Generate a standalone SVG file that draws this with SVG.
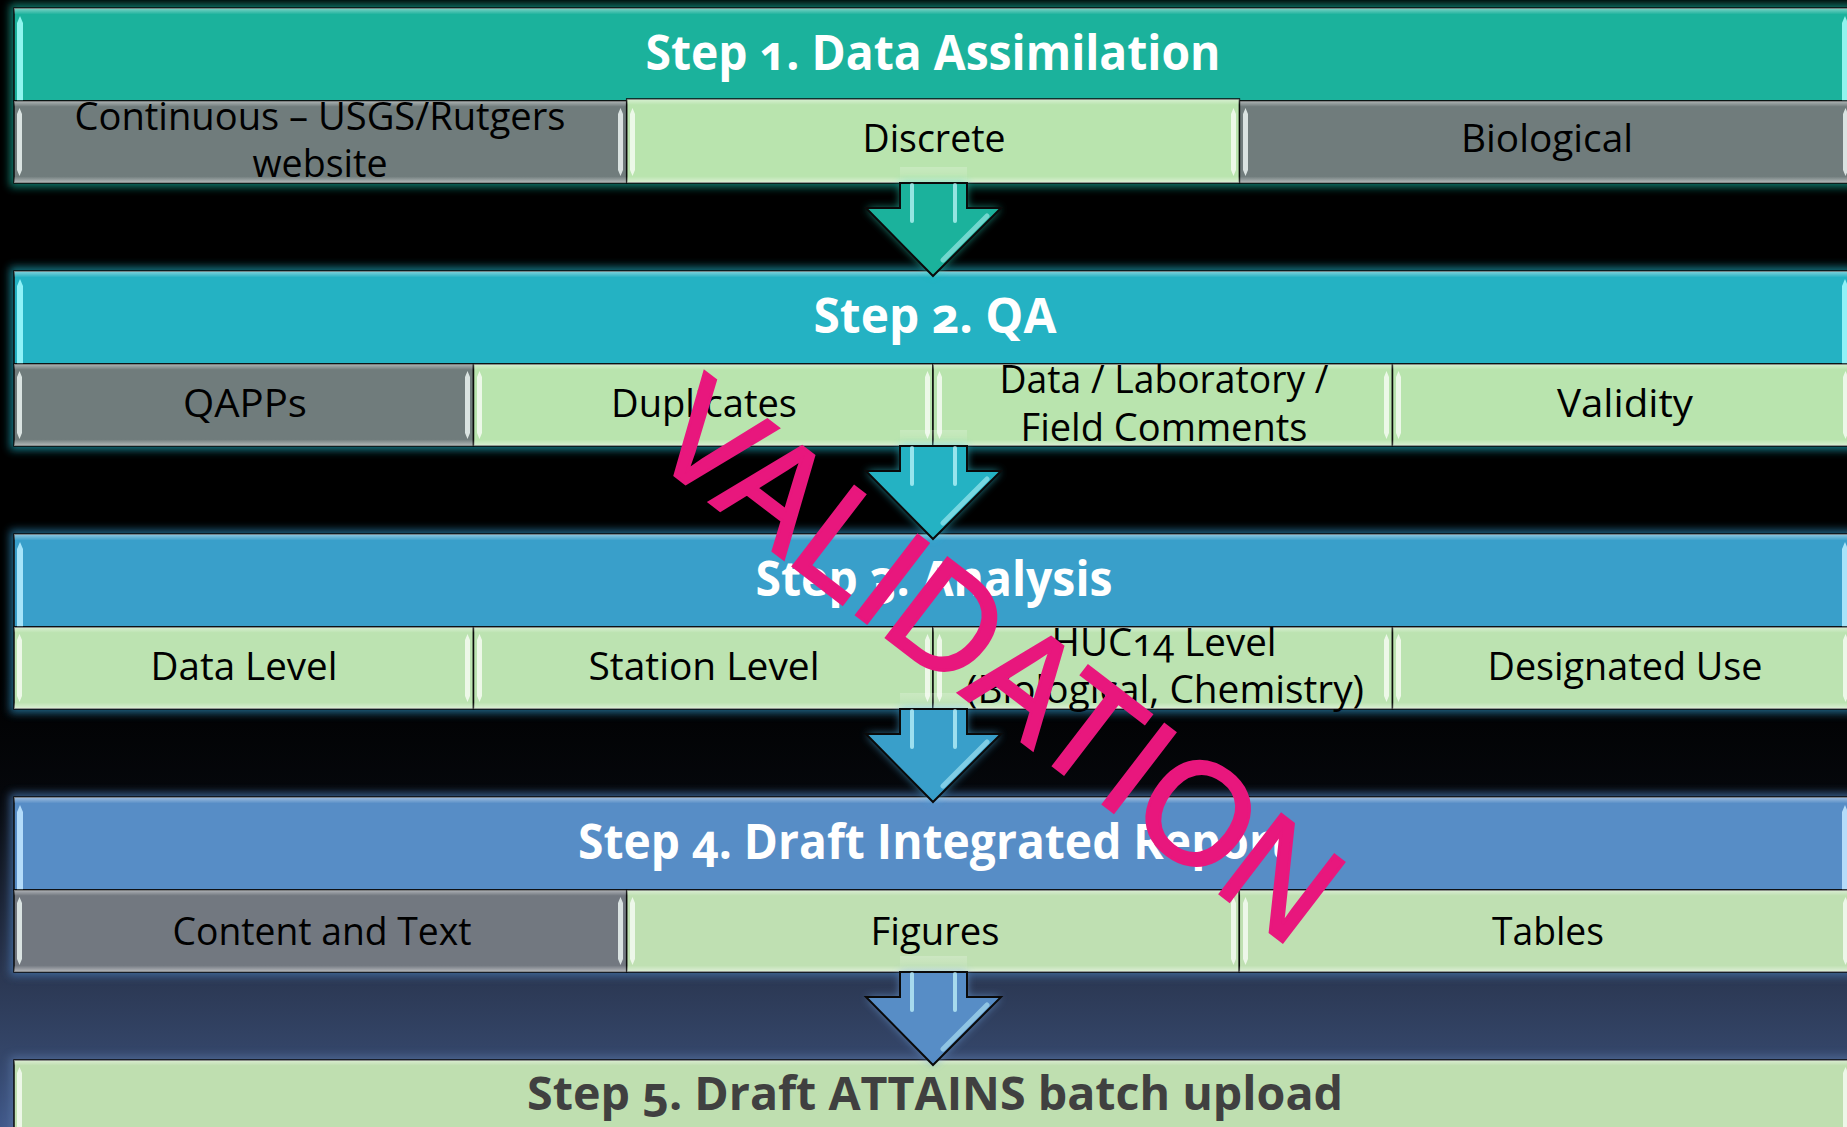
<svg xmlns="http://www.w3.org/2000/svg" width="1847" height="1127" viewBox="0 0 1847 1127">
<defs>
<style>
.hdr{font-family:"Open Sans","Noto Sans","DejaVu Sans",sans-serif;font-weight:700;font-size:48px;fill:#ffffff;text-anchor:middle;font-variant-numeric:oldstyle-nums}
.lbl{font-family:"Open Sans","Noto Sans","DejaVu Sans",sans-serif;font-size:38px;fill:#000;text-anchor:middle;font-variant-numeric:oldstyle-nums}
.bx{stroke:#0a0a0a;stroke-width:1.5}
.gray{fill:#707c7c}
.green{fill:#b9e4ae}
.pg{fill:#e6eeec;opacity:.9}
.pw{fill:#f2faee;opacity:.9}
.wm{font-family:"Liberation Sans",Arial,sans-serif;font-size:146px;fill:#e8177d;stroke:#e8177d;stroke-width:3;stroke-linejoin:miter}
.hl{stroke-linecap:round;fill:none}
</style>
<linearGradient id="bg" gradientUnits="userSpaceOnUse" x1="0" y1="0" x2="0" y2="1127">
<stop offset="0" stop-color="#000"/>
<stop offset="0.6" stop-color="#000"/>
<stop offset="0.70" stop-color="#05070b"/>
<stop offset="0.86" stop-color="#2a3650"/>
<stop offset="0.94" stop-color="#35476b"/>
<stop offset="1" stop-color="#41598a"/>
</linearGradient>
<linearGradient id="bev" x1="0" y1="0" x2="0" y2="1">
<stop offset="0" stop-color="#fff" stop-opacity=".45"/>
<stop offset=".07" stop-color="#fff" stop-opacity="0"/>
<stop offset=".92" stop-color="#fff" stop-opacity="0"/>
<stop offset="1" stop-color="#fff" stop-opacity=".5"/>
</linearGradient>
<linearGradient id="hbev" x1="0" y1="0" x2="0" y2="1">
<stop offset="0" stop-color="#fff" stop-opacity=".45"/>
<stop offset=".07" stop-color="#fff" stop-opacity="0"/>
<stop offset="1" stop-color="#fff" stop-opacity="0"/>
</linearGradient>
<linearGradient id="shaft" x1="0" y1="0" x2="0" y2="1">
<stop offset="0" stop-color="#fff" stop-opacity=".35"/>
<stop offset="1" stop-color="#fff" stop-opacity="0"/>
</linearGradient>
<filter id="soft" x="-5%" y="-30%" width="110%" height="160%"><feGaussianBlur stdDeviation="4"/></filter>
<filter id="softA" x="-40%" y="-40%" width="180%" height="180%"><feGaussianBlur stdDeviation="4"/></filter>
<path id="pS" d="M2.5,7 L5,13 L5,69 L2.5,75 L0,69 L0,13 Z"/>
<path id="pH" d="M3,8 L6,15 L6,93 L0,93 L0,15 Z"/>
<path id="arrow" d="M-33,0 L34,0 L34,25 L68,25 L0,93 L-67,25 L-33,25 Z"/>
<g id="ahl">
<rect x="-33" y="-16" width="67" height="16" fill="url(#shaft)" opacity=".6"/>
<line class="hl" x1="-21" y1="2" x2="-21" y2="38" stroke="#c8fbff" stroke-width="4" opacity=".7"/>
<line class="hl" x1="22" y1="2" x2="22" y2="38" stroke="#c8fbff" stroke-width="4" opacity=".7"/>
<line class="hl" x1="54" y1="33" x2="10" y2="77" stroke="#c8fbff" stroke-width="5" opacity=".5"/>
</g>
</defs>

<rect x="0" y="0" width="1847" height="1127" fill="url(#bg)"/>

<!-- Step 1 -->
<g id="step1">
<rect x="10" y="4" width="1846" height="183" fill="#17a491" filter="url(#soft)" opacity=".75"/>
<rect class="bx" x="14" y="8" width="1838" height="93" fill="#1bb29c"/>
<rect x="14" y="8" width="1838" height="93" fill="url(#hbev)"/>
<use href="#pH" x="17" y="8" fill="#8ff5ee"/>
<use href="#pH" x="1842" y="8" fill="#8ff5ee"/>
<text class="hdr" x="933" y="70" textLength="575" lengthAdjust="spacingAndGlyphs">Step 1. Data Assimilation</text>
</g>
<g id="continuous">
<rect class="bx gray" x="14" y="101" width="612.7" height="82"/>
<rect x="14" y="101" width="612.7" height="82" fill="url(#bev)"/>
<use href="#pS" x="17" y="101" class="pg"/>
<use href="#pS" x="618" y="101" class="pg"/>
<text class="lbl" x="320" y="130" textLength="491" lengthAdjust="spacingAndGlyphs">Continuous – USGS/Rutgers</text>
<text class="lbl" x="320" y="177" textLength="135" lengthAdjust="spacingAndGlyphs">website</text>
</g>
<g id="biological">
<rect class="bx gray" x="1239.3" y="101" width="612.7" height="82"/>
<rect x="1239.3" y="101" width="612.7" height="82" fill="url(#bev)"/>
<use href="#pS" x="1243" y="101" class="pg"/>
<use href="#pS" x="1843" y="101" class="pg"/>
<text class="lbl" x="1547" y="152" textLength="172" lengthAdjust="spacingAndGlyphs">Biological</text>
</g>
<g id="discrete">
<rect class="bx green" x="626.7" y="99" width="612.7" height="84"/>
<rect x="626.7" y="99" width="612.7" height="84" fill="url(#bev)"/>
<use href="#pS" x="630" y="101" class="pw"/>
<use href="#pS" x="1231" y="101" class="pw"/>
<text class="lbl" x="934" y="152" textLength="143" lengthAdjust="spacingAndGlyphs">Discrete</text>
</g>

<!-- Step 2 -->
<g id="step2">
<rect x="10" y="267" width="1846" height="183" fill="#1b9fb0" filter="url(#soft)" opacity=".75"/>
<rect class="bx" x="14" y="271" width="1838" height="93" fill="#24b2c3"/>
<rect x="14" y="271" width="1838" height="93" fill="url(#hbev)"/>
<use href="#pH" x="17" y="271" fill="#8ff2f8"/>
<use href="#pH" x="1842" y="271" fill="#8ff2f8"/>
<text class="hdr" x="935" y="333" textLength="243" lengthAdjust="spacingAndGlyphs">Step 2. QA</text>
</g>
<g id="qapps">
<rect class="bx gray" x="14" y="364" width="459.5" height="82"/>
<rect x="14" y="364" width="459.5" height="82" fill="url(#bev)"/>
<use href="#pS" x="17" y="364" class="pg"/>
<use href="#pS" x="465" y="364" class="pg"/>
<text class="lbl" x="245" y="417" textLength="124" lengthAdjust="spacingAndGlyphs">QAPPs</text>
</g>
<g id="duplicates">
<rect class="bx green" x="473.5" y="364" width="459.5" height="82"/>
<rect x="473.5" y="364" width="459.5" height="82" fill="url(#bev)"/>
<use href="#pS" x="477" y="364" class="pw"/>
<use href="#pS" x="925" y="364" class="pw"/>
<text class="lbl" x="704" y="417" textLength="186" lengthAdjust="spacingAndGlyphs">Duplicates</text>
</g>
<g id="comments">
<rect class="bx green" x="933" y="364" width="459.5" height="82"/>
<rect x="933" y="364" width="459.5" height="82" fill="url(#bev)"/>
<use href="#pS" x="937" y="364" class="pw"/>
<use href="#pS" x="1384" y="364" class="pw"/>
<text class="lbl" x="1164" y="393" textLength="329" lengthAdjust="spacingAndGlyphs">Data / Laboratory /</text>
<text class="lbl" x="1164" y="441" textLength="287" lengthAdjust="spacingAndGlyphs">Field Comments</text>
</g>
<g id="validity">
<rect class="bx green" x="1392.5" y="364" width="459.5" height="82"/>
<rect x="1392.5" y="364" width="459.5" height="82" fill="url(#bev)"/>
<use href="#pS" x="1396" y="364" class="pw"/>
<use href="#pS" x="1843" y="364" class="pw"/>
<text class="lbl" x="1625" y="417" textLength="136" lengthAdjust="spacingAndGlyphs">Validity</text>
</g>

<!-- Step 3 -->
<g id="step3">
<rect x="10" y="530" width="1846" height="183" fill="#2b86b4" filter="url(#soft)" opacity=".75"/>
<rect class="bx" x="14" y="534" width="1838" height="93" fill="#399fca"/>
<rect x="14" y="534" width="1838" height="93" fill="url(#hbev)"/>
<use href="#pH" x="17" y="534" fill="#a6e4fa"/>
<use href="#pH" x="1842" y="534" fill="#a6e4fa"/>
<text class="hdr" x="934" y="596" textLength="357" lengthAdjust="spacingAndGlyphs">Step 3. Analysis</text>
</g>
<g id="datalevel">
<rect class="bx" x="14" y="627" width="459.5" height="82" fill="#bce3b1"/>
<rect x="14" y="627" width="459.5" height="82" fill="url(#bev)"/>
<use href="#pS" x="17" y="627" class="pw"/>
<use href="#pS" x="465" y="627" class="pw"/>
<text class="lbl" x="244" y="680" textLength="187" lengthAdjust="spacingAndGlyphs">Data Level</text>
</g>
<g id="stationlevel">
<rect class="bx" x="473.5" y="627" width="459.5" height="82" fill="#bce3b1"/>
<rect x="473.5" y="627" width="459.5" height="82" fill="url(#bev)"/>
<use href="#pS" x="477" y="627" class="pw"/>
<use href="#pS" x="925" y="627" class="pw"/>
<text class="lbl" x="704" y="680" textLength="231" lengthAdjust="spacingAndGlyphs">Station Level</text>
</g>
<g id="huc14">
<rect class="bx" x="933" y="627" width="459.5" height="82" fill="#bce3b1"/>
<rect x="933" y="627" width="459.5" height="82" fill="url(#bev)"/>
<use href="#pS" x="937" y="627" class="pw"/>
<use href="#pS" x="1384" y="627" class="pw"/>
<text class="lbl" x="1164" y="656" textLength="225" lengthAdjust="spacingAndGlyphs">HUC14 Level</text>
<text class="lbl" x="1165" y="703" textLength="398" lengthAdjust="spacingAndGlyphs">(Biological, Chemistry)</text>
</g>
<g id="designateduse">
<rect class="bx" x="1392.5" y="627" width="459.5" height="82" fill="#bce3b1"/>
<rect x="1392.5" y="627" width="459.5" height="82" fill="url(#bev)"/>
<use href="#pS" x="1396" y="627" class="pw"/>
<use href="#pS" x="1843" y="627" class="pw"/>
<text class="lbl" x="1625" y="680" textLength="275" lengthAdjust="spacingAndGlyphs">Designated Use</text>
</g>

<!-- Step 4 -->
<g id="step4">
<rect x="10" y="793" width="1846" height="183" fill="#4777b0" filter="url(#soft)" opacity=".75"/>
<rect class="bx" x="14" y="797" width="1838" height="93" fill="#578dc6"/>
<rect x="14" y="797" width="1838" height="93" fill="url(#hbev)"/>
<use href="#pH" x="17" y="797" fill="#b4dcfa"/>
<use href="#pH" x="1842" y="797" fill="#b4dcfa"/>
<text class="hdr" x="934" y="859" textLength="712" lengthAdjust="spacingAndGlyphs">Step 4. Draft Integrated Report</text>
</g>
<g id="content">
<rect class="bx" x="14" y="890" width="612.7" height="82" fill="#727880"/>
<rect x="14" y="890" width="612.7" height="82" fill="url(#bev)"/>
<use href="#pS" x="17" y="890" class="pg"/>
<use href="#pS" x="618" y="890" class="pg"/>
<text class="lbl" x="322" y="945" textLength="299" lengthAdjust="spacingAndGlyphs">Content and Text</text>
</g>
<g id="figures">
<rect class="bx" x="626.7" y="890" width="612.7" height="82" fill="#bfe0b2"/>
<rect x="626.7" y="890" width="612.7" height="82" fill="url(#bev)"/>
<use href="#pS" x="630" y="890" class="pw"/>
<use href="#pS" x="1231" y="890" class="pw"/>
<text class="lbl" x="935" y="945" textLength="129" lengthAdjust="spacingAndGlyphs">Figures</text>
</g>
<g id="tables">
<rect class="bx" x="1239.3" y="890" width="612.7" height="82" fill="#bfe0b2"/>
<rect x="1239.3" y="890" width="612.7" height="82" fill="url(#bev)"/>
<use href="#pS" x="1243" y="890" class="pw"/>
<use href="#pS" x="1843" y="890" class="pw"/>
<text class="lbl" x="1548" y="945" textLength="112" lengthAdjust="spacingAndGlyphs">Tables</text>
</g>

<!-- Step 5 -->
<g id="step5">
<rect x="10" y="1056" width="1846" height="90" fill="#5a78a8" filter="url(#soft)" opacity=".6"/>
<rect class="bx" x="14" y="1060" width="1838" height="80" fill="#bfdfb0"/>
<rect x="14" y="1060" width="1838" height="80" fill="url(#hbev)"/>
<use href="#pS" x="17" y="1060" class="pw"/>
<use href="#pS" x="1843" y="1060" class="pw"/>
<text class="hdr" x="935" y="1110" textLength="816" lengthAdjust="spacingAndGlyphs" style="fill:#404040;font-size:47px">Step 5. Draft ATTAINS batch upload</text>
</g>

<!-- Connectors -->
<g id="connectors">
<g transform="translate(933,183)">
<use href="#arrow" fill="#27d0b8" filter="url(#softA)" opacity=".7"/>
<use href="#arrow" fill="#1bb29c" stroke="#0a0a0a" stroke-width="2"/>
<use href="#ahl"/>
</g>
<g transform="translate(933,446)">
<use href="#arrow" fill="#30cde0" filter="url(#softA)" opacity=".7"/>
<use href="#arrow" fill="#24b2c3" stroke="#0a0a0a" stroke-width="2"/>
<use href="#ahl"/>
</g>
<g transform="translate(933,709)">
<use href="#arrow" fill="#48b4e8" filter="url(#softA)" opacity=".7"/>
<use href="#arrow" fill="#399fca" stroke="#0a0a0a" stroke-width="2"/>
<use href="#ahl"/>
</g>
<g transform="translate(933,972)">
<use href="#arrow" fill="#6ea4e0" filter="url(#softA)" opacity=".7"/>
<use href="#arrow" fill="#578dc6" stroke="#0a0a0a" stroke-width="2"/>
<use href="#ahl"/>
</g>
</g>

<!-- Watermark -->
<text class="wm" transform="translate(643,451) rotate(37.5)" x="0" y="0" textLength="818" lengthAdjust="spacingAndGlyphs">VALIDATION</text>
</svg>
